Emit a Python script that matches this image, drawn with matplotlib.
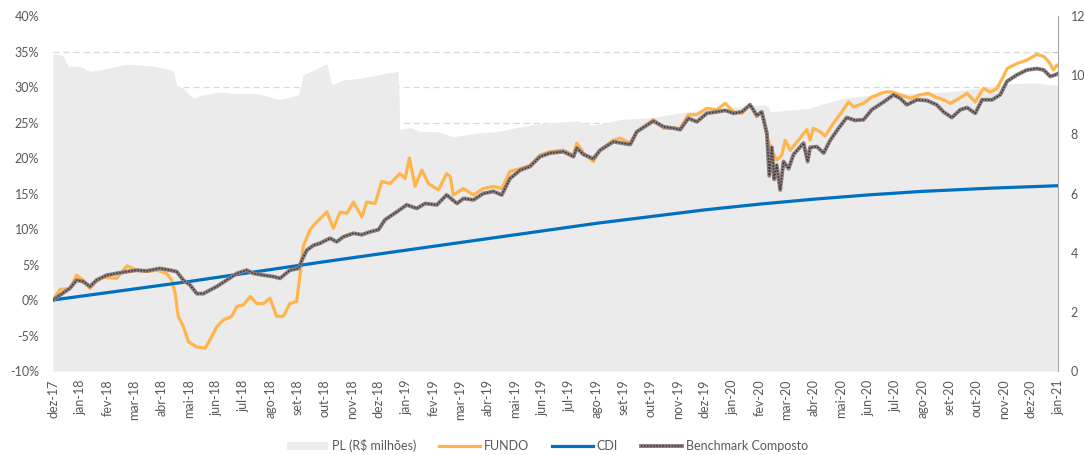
import matplotlib
matplotlib.use("Agg")
import matplotlib.pyplot as plt
from matplotlib.lines import Line2D
from matplotlib.patches import Patch
import numpy as np

# =========================
# DATA (months since dez-17)
# =========================

meses = ["jan", "fev", "mar", "abr", "mai", "jun",
         "jul", "ago", "set", "out", "nov", "dez"]
tick_labels = ["dez-17"] + [f"{meses[i % 12]}-{18 + i // 12}" for i in range(37)]

fundo_x = [0.0, 0.26, 0.62, 0.87, 1.11, 1.36, 1.60, 1.85, 2.34, 2.72, 3.08, 3.45,
           3.82, 4.18, 4.37, 4.50, 4.61, 4.80, 4.99, 5.29, 5.60, 5.78, 6.03, 6.27,
           6.58, 6.77, 7.01, 7.26, 7.50, 7.75, 7.99, 8.23, 8.48, 8.72, 8.97, 9.10,
           9.21, 9.46, 9.71, 10.08, 10.32, 10.57, 10.82, 11.06, 11.37, 11.55, 11.86,
           12.10, 12.41, 12.77, 12.96, 13.12, 13.33, 13.58, 13.82, 14.19, 14.49,
           14.62, 14.74, 15.11, 15.48, 15.84, 16.21, 16.52, 16.82, 17.20, 17.56,
           17.93, 18.30, 18.79, 19.16, 19.28, 19.53, 19.89, 20.14, 20.63, 20.87,
           21.25, 21.49, 22.10, 22.48, 22.84, 23.09, 23.39, 23.70, 24.07, 24.43,
           24.75, 25.05, 25.36, 25.66, 25.91, 26.09, 26.28, 26.46, 26.64, 26.83,
           26.95, 27.14, 27.50, 27.75, 27.87, 27.99, 28.24, 28.42, 28.73, 29.04,
           29.29, 29.47, 29.84, 30.14, 30.64, 30.88, 31.19, 31.56, 31.92, 32.23,
           32.48, 32.78, 33.03, 33.27, 33.65, 33.95, 34.25, 34.50, 34.75, 34.99,
           35.12, 35.48, 35.85, 36.22, 36.47, 36.65, 36.83, 36.96, 37.0]
fundo_y = [0.0, 1.5, 1.6, 3.5, 2.8, 1.65, 2.6, 3.2, 3.05, 4.8, 4.2, 4.0,
           4.2, 3.75, 2.8, 0.9, -2.3, -3.75, -5.9, -6.6, -6.8, -5.6, -3.75, -2.8,
           -2.3, -0.9, -0.7, 0.5, -0.5, -0.5, 0.25, -2.3, -2.3, -0.5, -0.2, 3.75,
           7.5, 9.9, 11.0, 12.4, 10.1, 12.4, 12.2, 13.8, 11.7, 13.8, 13.6,
           16.7, 16.4, 17.8, 17.1, 20.0, 16.0, 18.3, 16.4, 15.5, 17.8,
           17.4, 14.8, 15.7, 14.8, 15.7, 16.0, 15.7, 18.1, 18.5, 19.0,
           20.4, 20.9, 21.1, 20.4, 22.1, 20.7, 19.5, 21.1, 22.5, 22.8,
           22.1, 23.7, 25.4, 24.2, 24.2, 24.2, 26.1, 26.1, 27.0, 26.8,
           27.7, 26.5, 26.3, 27.5, 25.8, 26.5, 23.0, 21.1, 19.7, 20.4,
           22.5, 21.1, 22.8, 24.0, 22.5, 24.2, 23.7, 23.1, 24.9, 26.5,
           27.9, 27.2, 27.7, 28.6, 29.3, 29.3, 28.9, 28.4, 28.9, 29.1,
           28.6, 28.2, 27.7, 28.2, 29.1, 27.9, 29.8, 29.3, 29.8, 31.5,
           32.6, 33.3, 33.8, 34.6, 34.3, 33.6, 32.4, 33.1, 33.0]

bench_x = [0.0, 0.26, 0.62, 0.87, 1.11, 1.36, 1.60, 1.98, 2.34, 2.72, 3.08, 3.45,
           3.93, 4.31, 4.55, 4.80, 5.05, 5.29, 5.54, 5.78, 6.03, 6.39, 6.77, 7.13,
           7.38, 7.75, 8.11, 8.36, 8.72, 9.04, 9.16, 9.34, 9.59, 9.83, 10.20,
           10.44, 10.69, 11.06, 11.37, 11.67, 11.98, 12.22, 12.65, 13.02, 13.39,
           13.70, 14.13, 14.49, 14.87, 15.11, 15.48, 15.84, 16.21, 16.52, 16.82,
           17.20, 17.56, 17.93, 18.30, 18.79, 19.16, 19.28, 19.53, 19.89, 20.14,
           20.63, 21.25, 21.49, 22.10, 22.48, 22.84, 23.09, 23.39, 23.70, 24.07,
           24.43, 24.75, 25.05, 25.36, 25.66, 25.91, 26.09, 26.28, 26.37, 26.46,
           26.55, 26.64, 26.77, 26.89, 27.08, 27.26, 27.63, 27.78, 27.87, 28.12,
           28.37, 28.61, 28.92, 29.22, 29.53, 29.84, 30.14, 30.58, 30.94, 31.19,
           31.43, 31.81, 32.17, 32.53, 32.78, 33.09, 33.40, 33.65, 33.95, 34.20,
           34.57, 34.87, 35.12, 35.48, 35.85, 36.22, 36.47, 36.71, 36.89, 37.0]
bench_y = [0.0, 0.7, 1.65, 2.8, 2.6, 1.9, 2.8, 3.5, 3.75, 4.0, 4.2, 4.1,
           4.45, 4.2, 4.0, 2.8, 2.1, 0.9, 0.9, 1.4, 1.9, 2.8, 3.75, 4.2,
           3.75, 3.5, 3.3, 3.05, 4.2, 4.45, 5.6, 7.0, 7.7, 8.0, 8.7,
           8.2, 8.9, 9.4, 9.2, 9.6, 9.9, 11.3, 12.4, 13.4, 12.9,
           13.6, 13.4, 14.8, 13.6, 14.3, 14.1, 15.0, 15.3, 14.8, 17.1,
           18.3, 18.8, 20.2, 20.7, 20.9, 20.2, 21.4, 20.5, 19.9, 21.1,
           22.3, 21.9, 23.7, 25.2, 24.4, 24.2, 24.0, 25.6, 25.1, 26.3,
           26.5, 26.7, 26.3, 26.5, 27.5, 26.0, 26.5, 23.5, 17.5, 21.5,
           17.0, 19.0, 15.5, 19.5, 18.5, 20.5, 22.1, 19.5, 21.5, 21.6,
           20.7, 22.5, 24.2, 25.7, 25.3, 25.4, 26.8, 27.9, 28.9, 28.4,
           27.5, 28.2, 28.1, 27.5, 26.5, 25.7, 26.8, 27.1, 26.3, 28.2,
           28.2, 28.9, 30.8, 31.7, 32.4, 32.6, 32.4, 31.5, 31.7, 31.9]

cdi_x = [0.0, 5.0, 10.0, 15.0, 20.0, 22.0, 24.0, 26.0, 28.0, 30.0, 32.0, 34.5, 37.0]
cdi_y = [0.0, 2.6, 5.4, 8.1, 10.8, 11.75, 12.7, 13.5, 14.2, 14.8, 15.3, 15.75, 16.1]

# PL in R$ milhoes (right axis)
pl_x = [0.0, 0.38, 0.56, 1.00, 1.36, 1.73, 2.72, 3.57, 4.18, 4.43, 4.55, 4.80,
        5.16, 5.54, 6.15, 6.77, 7.50, 8.36, 9.04, 9.21, 9.71, 9.95, 10.08, 10.26,
        10.69, 11.31, 11.92, 12.71, 12.77, 13.15, 13.51, 14.13, 14.74, 15.59,
        16.33, 17.07, 18.05, 19.28, 19.89, 20.87, 22.10, 23.33, 24.56, 25.66,
        26.21, 26.34, 26.40, 27.02, 27.87, 28.24, 29.10, 30.33, 31.56, 32.78,
        34.01, 35.24, 36.22, 36.71, 37.0]
pl_y = [10.73, 10.66, 10.30, 10.30, 10.13, 10.18, 10.37, 10.32, 10.22, 10.13, 9.67, 9.55,
        9.22, 9.34, 9.43, 9.38, 9.38, 9.17, 9.34, 10.01, 10.22, 10.34, 10.39, 9.67,
        9.84, 9.89, 10.01, 10.13, 8.16, 8.23, 8.09, 8.09, 7.92, 8.04,
        8.09, 8.23, 8.38, 8.45, 8.30, 8.50, 8.57, 8.76, 8.88, 8.95,
        9.00, 8.93, 8.76, 8.81, 8.88, 9.00, 9.22, 9.34, 9.38, 9.43,
        9.55, 9.72, 9.74, 9.67, 9.67]

# =========================
# CHART
# =========================

plt.rcParams["font.family"] = ["Lato", "DejaVu Sans"]
txt = "#595959"
c_pl = "#ebebeb"
c_fundo = "#ffb54c"
c_cdi = "#0070c0"
c_bench = "#8a7e7e"
c_bench_dots = "#3f3434"

fig = plt.figure(figsize=(10.84, 4.55), dpi=100)
ax2 = fig.add_axes([0.0489, 0.1846, 0.9272, 0.7802])
ax = ax2.twinx()

# right axis (PL) on ax2, drawn below the lines
ax2.fill_between(pl_x, pl_y, 0, color=c_pl, lw=0, zorder=2)
ax2.set_ylim(0, 12)
ax2.set_xlim(0, 37)
ax2.yaxis.tick_right()
ax2.set_yticks(range(0, 13, 2))
ax2.set_yticks(np.arange(0, 12.01, 1.2), minor=True)
ax2.grid(which="minor", axis="y", color="#d9d9d9", ls=(0, (5, 3)), lw=0.9, zorder=0)
ax2.tick_params(axis="y", which="major", length=0, pad=9, labelsize=9, labelcolor=txt)
ax2.tick_params(axis="y", which="minor", length=4, direction="in", color="#bfbfbf")
ax2.set_xticks(range(38))
ax2.set_xticklabels(tick_labels, rotation=90)
ax2.tick_params(axis="x", length=0, pad=6, labelsize=9, labelcolor=txt)
for s in ["top", "left", "bottom"]:
    ax2.spines[s].set_visible(False)
ax2.spines["right"].set_color("#a6a6a6")

# left axis (%) with the series
ax.plot(fundo_x, fundo_y, color=c_fundo, lw=2.3, zorder=3)
ax.plot(cdi_x, cdi_y, color=c_cdi, lw=2.3, zorder=4)
ax.plot(bench_x, bench_y, color=c_bench, lw=2.8, zorder=5)
ax.plot(bench_x, bench_y, color=c_bench_dots, lw=1.1, ls=(0, (1, 1)), zorder=6)
ax.set_ylim(-10, 40)
ax.yaxis.tick_left()
ax.set_yticks(range(-10, 41, 5))
ax.set_yticklabels([f"{v}%" for v in range(-10, 41, 5)])
ax.tick_params(axis="y", length=0, pad=10, labelsize=9, labelcolor=txt)
for s in ax.spines.values():
    s.set_visible(False)

# legend
handles = [
    Patch(facecolor=c_pl, edgecolor="none"),
    Line2D([], [], color=c_fundo, lw=2.3),
    Line2D([], [], color=c_cdi, lw=2.3),
    (Line2D([], [], color=c_bench, lw=2.8),
     Line2D([], [], color=c_bench_dots, lw=1.1, ls=(0, (1, 1)))),
]
labels = ["PL (R$ milhões)", "FUNDO", "CDI", "Benchmark Composto"]
fig.legend(handles, labels, loc="center", bbox_to_anchor=(0.505, 0.02),
           ncol=4, frameon=False, fontsize=9, labelcolor=txt,
           handlelength=3.3, handletextpad=0.3, columnspacing=1.8)

fig.savefig("out.png", dpi=100)
